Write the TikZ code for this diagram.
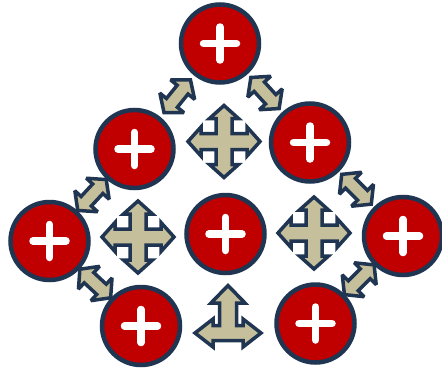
\documentclass[tikz,border=0pt]{standalone}
\usetikzlibrary{calc}
\definecolor{plusred}{HTML}{C00000}
\definecolor{navyline}{HTML}{1F3552}
\definecolor{tanfill}{HTML}{C6BF9B}
\begin{document}
\begin{tikzpicture}[x=1pt,y=-1pt,
  plusnode/.style={circle, draw=navyline, line width=4.5pt, fill=plusred,
    minimum size=78pt, inner sep=0pt,
    path picture={\draw[white, line width=7.5pt, line cap=round]
      ([xshift=-16.5pt]path picture bounding box.center) -- ([xshift=16.5pt]path picture bounding box.center)
      ([yshift=-16.5pt]path picture bounding box.center) -- ([yshift=16.5pt]path picture bounding box.center);}},
  arrowshape/.style={draw=navyline, fill=tanfill, line width=3.5pt, line join=miter, miter limit=3},
  darrow/.pic={\path[arrowshape, rotate=#1] (-21,0) -- (-8.5,-15.5) -- (-8.5,-7) -- (8.5,-7) -- (8.5,-15.5)
      -- (21,0) -- (8.5,15.5) -- (8.5,7) -- (-8.5,7) -- (-8.5,15.5) -- cycle;},
  quadarrow/.pic={\path[arrowshape] (0,-36) -- (14.5,-23) -- (8,-23) -- (8,-8) -- (23,-8) -- (23,-14.5)
      -- (36,0) -- (23,14.5) -- (23,8) -- (8,8) -- (8,23) -- (14.5,23) -- (0,36) -- (-14.5,23) -- (-8,23)
      -- (-8,8) -- (-23,8) -- (-23,14.5) -- (-36,0) -- (-23,-14.5) -- (-23,-8) -- (-8,-8) -- (-8,-23)
      -- (-14.5,-23) -- cycle;},
  triarrow/.pic={\path[arrowshape] (-33,0) -- (-15,-14) -- (-15,-7.5) -- (-8.5,-7.5) -- (-8.5,-30)
      -- (-17,-30) -- (0,-47.5) -- (17,-30) -- (8.5,-30) -- (8.5,-7.5) -- (15,-7.5) -- (15,-14)
      -- (33,0) -- (15,14) -- (15,7.5) -- (-15,7.5) -- (-15,14) -- cycle;}
]
\useasboundingbox (0,0) rectangle (442,367);
% circles
\node[plusnode] (T)  at (220,43.5) {};
\node[plusnode] (UL) at (134.5,149) {};
\node[plusnode] (UR) at (310,142.5) {};
\node[plusnode] (L)  at (49.5,241) {};
\node[plusnode] (C)  at (225.5,234) {};
\node[plusnode] (R)  at (403,236) {};
\node[plusnode] (BL) at (141,326) {};
\node[plusnode] (BR) at (315.5,323.5) {};
% diagonal double arrows
\pic (a1) at ($(T)!0.5!(UL)$) {darrow=51};
\pic (a2) at ($(T)!0.5!(UR)$) {darrow=-47.7};
\pic (a3) at ($(UL)!0.5!(L)$) {darrow=47.3};
\pic (a4) at ($(L)!0.5!(BL)$) {darrow=-42.9};
\pic (a5) at ($(UR)!0.5!(R)$) {darrow=-45.2};
\pic (a6) at ($(R)!0.5!(BR)$) {darrow=45};
% four-way arrows
\pic (q1) at (224,141.5) {quadarrow};
\pic (q2) at (138,237) {quadarrow};
\pic (q3) at (314,233) {quadarrow};
% three-way arrow
\pic (t1) at (228,333) {triarrow};
\end{tikzpicture}
\end{document}
